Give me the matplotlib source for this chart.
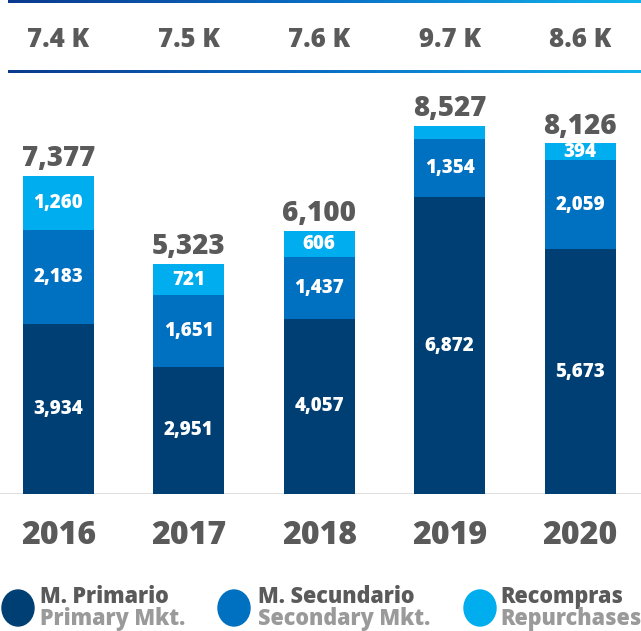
import matplotlib
matplotlib.use("Agg")
import matplotlib.pyplot as plt
import numpy as np
from matplotlib.patches import Ellipse
from matplotlib.colors import LinearSegmentedColormap
import matplotlib.transforms as mtransforms

years = ["2016", "2017", "2018", "2019", "2020"]
primario = [3934, 2951, 4057, 6872, 5673]
secundario = [2183, 1651, 1437, 1354, 2059]
recompras = [1260, 721, 606, 301, 394]
totals = [7377, 5323, 6100, 8527, 8126]
top_labels = ["7.4 K", "7.5 K", "7.6 K", "9.7 K", "8.6 K"]
show_rec_label = [True, True, True, False, True]

series_names = [("M. Primario", "Primary Mkt."),
                ("M. Secundario", "Secondary Mkt."),
                ("Recompras", "Repurchases")]
colors = ["#003f74", "#0070c0", "#00adee"]
GRAY = "#5a5a5a"
LGRAY = "#9a9a9a"
FONT = ["Open Sans", "DejaVu Sans"]
plt.rcParams["font.family"] = FONT
WT = 800

W, H = 641, 631
fig = plt.figure(figsize=(W / 100, H / 100), dpi=100)

# main bar axes
base_px = 494
scale = 368 / 8527.0  # px per unit
ymax = 10000
ax_h = ymax * scale
c0, step = 58.5, 130.4
x0 = -c0 / step
x1 = (W - c0) / step
ax = fig.add_axes([0, (H - base_px) / H, 1, ax_h / H])
ax.set_xlim(x0, x1)
ax.set_ylim(0, ymax)
ax.axis("off")

x = np.arange(len(years))
bw = 71 / step
p = np.array(primario)
s = np.array(secundario)
r = np.array(recompras)
ax.bar(x, p, bw, color=colors[0], zorder=2)
ax.bar(x, s, bw, bottom=p, color=colors[1], zorder=2)
ax.bar(x, r, bw, bottom=p + s, color=colors[2], zorder=2)

for i in range(len(years)):
    ax.text(x[i], p[i] / 2, f"{p[i]:,}", ha="center", va="center",
            color="white", fontsize=13.5, fontweight=WT, zorder=3)
    ax.text(x[i], p[i] + s[i] / 2, f"{s[i]:,}", ha="center", va="center",
            color="white", fontsize=13.5, fontweight=WT, zorder=3)
    if show_rec_label[i]:
        ax.text(x[i], p[i] + s[i] + r[i] / 2, f"{r[i]:,}", ha="center",
                va="center", color="white", fontsize=13.5,
                fontweight=WT, zorder=3)
    ax.annotate(f"{totals[i]:,}", (x[i], totals[i]), xytext=(0, 2),
                textcoords="offset points", ha="center", va="bottom",
                color=GRAY, fontsize=20, fontweight=WT)

# baseline
ax.axhline(0, color="#dddddd", lw=2, zorder=1)

# years and top labels (x in data, y in figure)
trans = mtransforms.blended_transform_factory(ax.transData, fig.transFigure)
for i in range(len(years)):
    ax.text(x[i], 1 - 536 / H, years[i], transform=trans, ha="center",
            va="center", color=GRAY, fontsize=23, fontweight=WT)
    ax.text(x[i], 1 - 40 / H, top_labels[i], transform=trans, ha="center",
            va="center", color=GRAY, fontsize=18.5, fontweight=WT)

# overlay axes in pixel coordinates for decorations
ov = fig.add_axes([0, 0, 1, 1], zorder=5)
ov.set_xlim(0, W)
ov.set_ylim(H, 0)
ov.axis("off")
cmap = LinearSegmentedColormap.from_list("g", ["#0a3a8e", "#0a6fc4", "#13b4ec"])
grad = np.linspace(0, 1, 256).reshape(1, -1)
for yt in (0, 70):
    ov.imshow(grad, cmap=cmap, aspect="auto", extent=(8, W, yt + 3, yt),
              zorder=5)
ov.set_xlim(0, W)
ov.set_ylim(H, 0)

# legend
circ_x = [18, 234, 480]
text_x = [40, 258, 500]
for k in range(3):
    ov.add_patch(Ellipse((circ_x[k], 608), 32, 36, color=colors[k]))
    ov.text(text_x[k], 597, series_names[k][0], ha="left", va="center",
            color=GRAY, fontsize=15.5, fontweight=WT)
    ov.text(text_x[k], 619, series_names[k][1], ha="left", va="center",
            color=LGRAY, fontsize=15.5, fontweight=WT)

fig.savefig("out.png", dpi=100)
